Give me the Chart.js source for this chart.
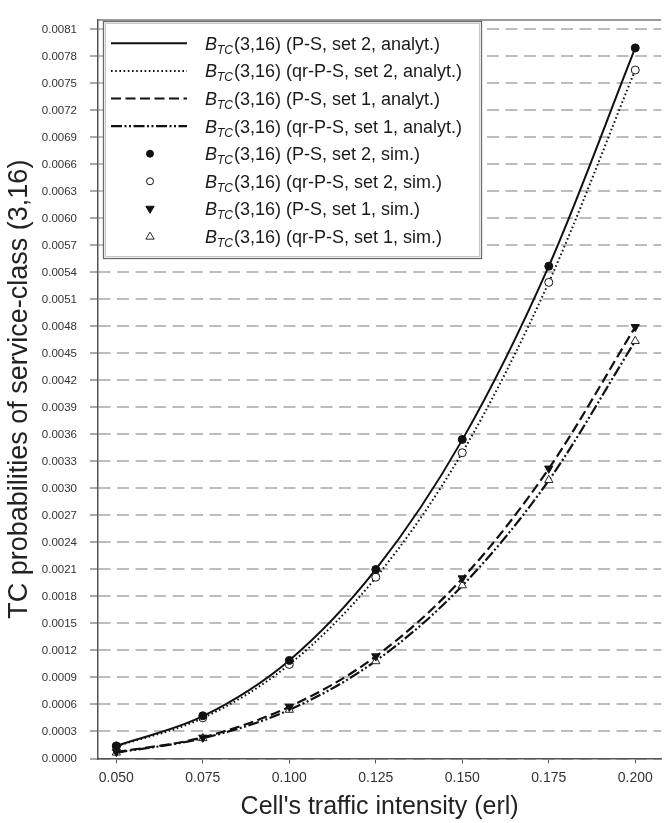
<!DOCTYPE html>
<html>
<head>
<meta charset="utf-8">
<script src="https://cdn.jsdelivr.net/npm/chart.js@4"></script>
<style>
  html, body { margin: 0; padding: 0; background: #fff; }
  #wrap { width: 667px; height: 823px; }
</style>
</head>
<body>
<div id="wrap"><canvas id="c" width="667" height="823"></canvas></div>
<script>
// ---- data ----
const traffic = [0.050, 0.075, 0.100, 0.125, 0.150, 0.175, 0.200];
const psSet2Analyt = [0.000140, 0.000470, 0.001090, 0.002100, 0.003540, 0.005470, 0.007895];
const qrSet2Analyt = [0.000135, 0.000450, 0.001045, 0.002010, 0.003400, 0.005290, 0.007650];
const psSet1Analyt = [0.000070, 0.000235, 0.000575, 0.001135, 0.002000, 0.003220, 0.004795];
const qrSet1Analyt = [0.000065, 0.000225, 0.000540, 0.001085, 0.001920, 0.003090, 0.004640];
const psSet2Sim = [0.000140, 0.000475, 0.001090, 0.002100, 0.003545, 0.005470, 0.007895];
const qrSet2Sim = [0.000137, 0.000452, 0.001045, 0.002014, 0.003397, 0.005290, 0.007649];
const psSet1Sim = [0.000075, 0.000233, 0.000576, 0.001136, 0.002003, 0.003222, 0.004795];
const qrSet1Sim = [0.000065, 0.000225, 0.000540, 0.001080, 0.001923, 0.003093, 0.004638];
const yTickValues = [];
for (let i = 0; i <= 27; i++) yTickValues.push(+(i * 0.0003).toFixed(4));
const xTickValues = traffic.slice();
const legendLabels = [
  "(P-S, set 2, analyt.)",
  "(qr-P-S, set 2, analyt.)",
  "(P-S, set 1, analyt.)",
  "(qr-P-S, set 1, analyt.)",
  "(P-S, set 2, sim.)",
  "(qr-P-S, set 2, sim.)",
  "(P-S, set 1, sim.)",
  "(qr-P-S, set 1, sim.)"
];

const FONT = "'Liberation Sans', Arial, Helvetica, sans-serif";
const pts = arr => arr.map((v, i) => ({x: traffic[i], y: v}));

const lineDs = (label, arr, dash, w) => ({
  label, data: pts(arr), borderColor: '#111', borderWidth: w, borderDash: dash,
  pointRadius: 0, fill: false, cubicInterpolationMode: 'monotone', showLine: true
});
const simDs = (label, arr, style, radius, fill, rot, bw) => ({
  label, data: pts(arr), showLine: false, pointStyle: style, pointRadius: radius,
  pointBackgroundColor: fill, pointBorderColor: '#111', pointBorderWidth: bw, pointRotation: rot
});

const datasets = [
  simDs(legendLabels[4], psSet2Sim, 'circle', 4, '#111', 0, 1),
  simDs(legendLabels[5], qrSet2Sim, 'circle', 4, '#fff', 0, 1),
  simDs(legendLabels[6], psSet1Sim, 'triangle', 4.8, '#111', 180, 1),
  simDs(legendLabels[7], qrSet1Sim, 'triangle', 4.8, '#fff', 0, 0.9),
  lineDs(legendLabels[0], psSet2Analyt, [], 2),
  lineDs(legendLabels[1], qrSet2Analyt, [1.6, 2.6], 2),
  lineDs(legendLabels[2], psSet1Analyt, [10, 4.5], 2.2),
  lineDs(legendLabels[3], qrSet1Analyt, [11, 2.5, 2, 2.5, 2, 2.5], 2.2)
];

const frameAndLegend = {
  id: 'frameAndLegend',
  beforeDatasetsDraw(chart) {
    const {ctx, chartArea: a} = chart;
    ctx.save();
    ctx.strokeStyle = '#7a7a7a';
    ctx.lineWidth = 1.5;
    ctx.beginPath();
    ctx.moveTo(a.left, a.top);
    ctx.lineTo(a.right, a.top);
    ctx.stroke();
    ctx.restore();
  },
  afterDraw(chart) {
    const ctx = chart.ctx;
    const bx = 103, by = 21, bw = 378, bh = 237;
    ctx.save();
    ctx.fillStyle = '#fff';
    ctx.fillRect(bx, by, bw, bh);
    ctx.strokeStyle = '#6a6a6a';
    ctx.lineWidth = 1.3;
    ctx.strokeRect(bx + 0.5, by + 0.5, bw, bh);
    ctx.strokeStyle = '#c8c8c8';
    ctx.lineWidth = 1;
    ctx.strokeRect(bx + 2.5, by + 2.5, bw - 4, bh - 4);

    const order = [4, 5, 6, 7, 0, 1, 2, 3];
    for (let i = 0; i < 8; i++) {
      const ds = chart.data.datasets[order[i]];
      const cy = 43.3 + i * 27.6;
      if (i < 4) {
        ctx.save();
        ctx.strokeStyle = '#111';
        ctx.lineWidth = ds.borderWidth;
        ctx.setLineDash(ds.borderDash);
        ctx.beginPath();
        ctx.moveTo(111, cy);
        ctx.lineTo(187, cy);
        ctx.stroke();
        ctx.restore();
      } else {
        const mx = 150;
        ctx.save();
        ctx.fillStyle = ds.pointBackgroundColor;
        ctx.strokeStyle = '#111';
        ctx.lineWidth = ds.pointBorderWidth;
        ctx.beginPath();
        if (ds.pointStyle === 'circle') {
          ctx.arc(mx, cy, 3.5, 0, Math.PI * 2);
        } else {
          const r = 4.4;
          const s = ds.pointRotation === 180 ? -1 : 1;
          ctx.moveTo(mx, cy - s * r);
          ctx.lineTo(mx + r * 0.95, cy + s * r * 0.6);
          ctx.lineTo(mx - r * 0.95, cy + s * r * 0.6);
          ctx.closePath();
        }
        ctx.fill();
        ctx.stroke();
        ctx.restore();
      }
      // text
      let x = 205;
      ctx.fillStyle = '#1a1a1a';
      ctx.textBaseline = 'alphabetic';
      const base = cy + 6.5;
      ctx.font = 'italic 18px ' + FONT;
      ctx.fillText('B', x, base);
      x += ctx.measureText('B').width;
      ctx.font = 'italic 12px ' + FONT;
      ctx.fillText('TC', x, base + 4);
      x += ctx.measureText('TC').width + 1;
      ctx.font = '18px ' + FONT;
      ctx.fillText('(3,16) ' + ds.label, x, base);
    }
    ctx.restore();
  }
};

new Chart(document.getElementById('c'), {
  type: 'line',
  data: { datasets },
  options: {
    responsive: false,
    animation: false,
    events: [],
    layout: { padding: { top: 11, right: 0, left: 0, bottom: 0 } },
    plugins: { legend: { display: false }, tooltip: { enabled: false } },
    scales: {
      x: {
        type: 'linear',
        min: 0.0447,
        max: 0.2075,
        afterBuildTicks: s => { s.ticks = xTickValues.map(v => ({value: v})); },
        afterFit: s => { s.height = 64.5; },
        ticks: {
          color: '#333',
          font: { family: FONT, size: 14 },
          padding: 6,
          maxRotation: 0,
          callback: v => v.toFixed(3)
        },
        grid: {
          display: true, drawOnChartArea: false, drawTicks: true,
          tickLength: 5, tickColor: '#555', tickWidth: 1
        },
        border: { display: true, color: '#555', width: 1.5 },
        title: {
          display: true, text: "Cell's traffic intensity (erl)", color: '#222',
          font: { family: FONT, size: 25 }, padding: { top: 0, bottom: 1 }
        }
      },
      y: {
        type: 'linear',
        min: 0,
        max: 0.008206,
        afterBuildTicks: s => { s.ticks = yTickValues.map(v => ({value: v})); },
        afterFit: s => { s.width = 98; },
        ticks: {
          color: '#333',
          font: { family: FONT, size: 11.5 },
          padding: 13,
          callback: v => v.toFixed(4)
        },
        grid: {
          color: '#bdbdbd', lineWidth: 2, drawTicks: true,
          tickLength: 8, tickColor: '#555', tickWidth: 1, tickBorderDash: []
        },
        border: { display: true, color: '#555', width: 1.5, dash: [12, 6.5] },
        title: {
          display: true, text: 'TC probabilities of service-class (3,16)', color: '#222',
          font: { family: FONT, size: 27 }, padding: { top: 3, bottom: 0 }
        }
      }
    }
  },
  plugins: [frameAndLegend]
});
</script>
</body>
</html>
